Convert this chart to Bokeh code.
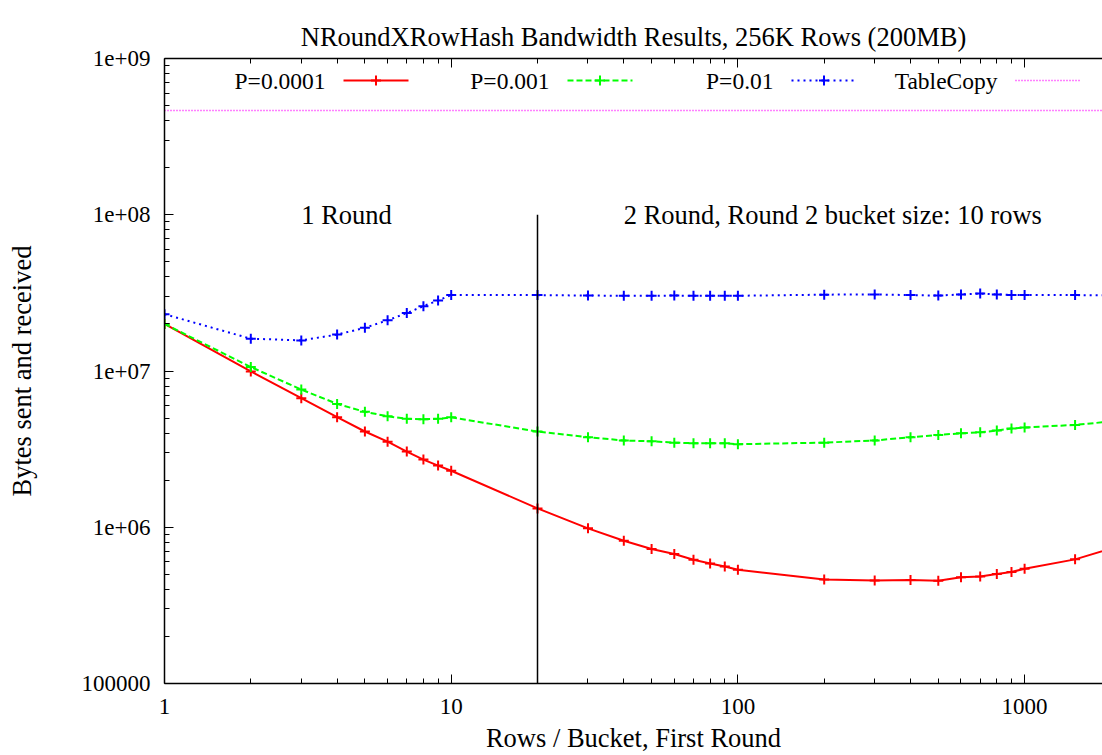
from bokeh.plotting import figure
from bokeh.models import LogAxis, FixedTicker, Range1d, CustomJSTickFormatter
from bokeh.core.properties import value
from bokeh.embed import file_html
from bokeh.resources import INLINE

# ---------------- data ----------------
x_rows = [1, 2, 3, 4, 5, 6, 7, 8, 9, 10, 20, 30, 40, 50, 60, 70, 80, 90, 100,
          200, 300, 400, 500, 600, 700, 800, 900, 1000, 1500, 2000]
p_0001 = [2.0e7, 9.93e6, 6.70e6, 5.06e6, 4.10e6, 3.53e6, 3.05e6, 2.71e6, 2.48e6, 2.30e6,
          1.32e6, 9.84e5, 8.20e5, 7.26e5, 6.75e5, 6.20e5, 5.87e5, 5.61e5, 5.35e5,
          4.63e5, 4.57e5, 4.59e5, 4.55e5, 4.78e5, 4.84e5, 5.02e5, 5.17e5, 5.43e5, 6.23e5, 7.3e5]
p_001 = [2.0e7, 1.06e7, 7.61e6, 6.16e6, 5.48e6, 5.13e6, 4.94e6, 4.91e6, 4.94e6, 5.05e6,
         4.10e6, 3.77e6, 3.59e6, 3.55e6, 3.48e6, 3.45e6, 3.45e6, 3.45e6, 3.40e6,
         3.48e6, 3.59e6, 3.77e6, 3.90e6, 3.99e6, 4.05e6, 4.16e6, 4.28e6, 4.35e6, 4.52e6, 4.75e6]
p_01 = [2.31e7, 1.61e7, 1.57e7, 1.71e7, 1.89e7, 2.11e7, 2.35e7, 2.60e7, 2.83e7, 3.06e7,
        3.06e7, 3.04e7, 3.03e7, 3.03e7, 3.04e7, 3.03e7, 3.03e7, 3.03e7, 3.03e7,
        3.08e7, 3.09e7, 3.06e7, 3.04e7, 3.09e7, 3.13e7, 3.09e7, 3.07e7, 3.07e7, 3.06e7, 3.05e7]
table_copy_x = [1, 2000]
table_copy_y = [4.64e8, 4.64e8]

series_names = ["P=0.0001", "P=0.001", "P=0.01", "TableCopy"]

divider_x = [20, 20]
divider_y = [1e8, 1e5]
region_labels = ["1 Round", "2 Round, Round 2 bucket size: 10 rows"]
region_label_x = [3, 40]
region_label_y = [1e8, 1e8]

x_ticks = [1, 10, 100, 1000]
x_tick_labels = ["1", "10", "100", "1000"]
y_ticks = [1e5, 1e6, 1e7, 1e8, 1e9]
y_tick_labels = ["100000", "1e+06", "1e+07", "1e+08", "1e+09"]

title_text = "NRoundXRowHash Bandwidth Results, 256K Rows (200MB)"
x_label = "Rows / Bucket, First Round"
y_label = "Bytes sent and received"

# ---------------- layout helpers ----------------
FONT = "Liberation Serif"
FS_TICK = "23px"
FS_KEY = "23.5px"
FS_BIG = "26.5px"
FRAME_L = 164.0      # px of the frame left edge
DEC_X = 286.7        # px per decade on x
FRAME_T = 58.0       # px of the frame top
DEC_Y = 156.25       # px per decade on y
W, H = 1102, 755


def px_to_x(px):
    return 10 ** ((px - FRAME_L) / DEC_X)


def py_to_y(py):
    return 10 ** (9 - (py - FRAME_T) / DEC_Y)


x_end = px_to_x(W)

p = figure(width=W, height=H, x_axis_type="log", y_axis_type="log",
           x_range=Range1d(1, x_end), y_range=Range1d(1e5, 1e9),
           output_backend="svg", toolbar_location=None,
           min_border_left=164, min_border_right=0, min_border_top=58,
           min_border_bottom=72)
p.outline_line_color = None
p.grid.visible = False
p.background_fill_color = "white"
p.border_fill_color = "white"

minor_x = [m * 10 ** e for e in range(0, 4) for m in range(2, 10)]
minor_y = [m * 10 ** e for e in range(5, 9) for m in range(2, 10)]

LABEL_JS = """
let best = 0, bd = Infinity;
for (let i = 0; i < tvals.length; i++) {
  const d = Math.abs(Math.log10(tick) - Math.log10(tvals[i]));
  if (d < bd) { bd = d; best = i; }
}
return bd < 1e-6 ? tlabels[best] : "";
"""


def style_axis(ax):
    ax.axis_line_width = 1.5
    ax.axis_line_color = "black"
    ax.major_tick_in = 9
    ax.major_tick_out = 0
    ax.minor_tick_in = 5
    ax.minor_tick_out = 0
    ax.major_tick_line_color = "black"
    ax.minor_tick_line_color = "black"
    ax.major_tick_line_width = 1
    ax.minor_tick_line_width = 1
    ax.major_label_text_font = FONT
    ax.major_label_text_font_size = FS_TICK
    ax.major_label_text_color = "black"
    ax.axis_label_text_font = FONT
    ax.axis_label_text_font_size = FS_BIG
    ax.axis_label_text_font_style = "normal"
    ax.axis_label_text_color = "black"


xax = p.xaxis[0]
xax.ticker = FixedTicker(ticks=x_ticks, minor_ticks=minor_x)
xax.formatter = CustomJSTickFormatter(args=dict(tvals=x_ticks, tlabels=x_tick_labels), code=LABEL_JS)
style_axis(xax)
xax.major_label_standoff = 15
xax.axis_label = x_label
xax.axis_label_standoff = 6

yax = p.yaxis[0]
yax.ticker = FixedTicker(ticks=y_ticks, minor_ticks=minor_y)
yax.formatter = CustomJSTickFormatter(args=dict(tvals=y_ticks, tlabels=y_tick_labels), code=LABEL_JS)
style_axis(yax)
yax.major_label_standoff = 14
yax.axis_label = y_label
yax.axis_label_standoff = 42

top = LogAxis(ticker=FixedTicker(ticks=x_ticks, minor_ticks=minor_x))
style_axis(top)
top.major_label_text_font_size = "1px"
top.major_label_text_alpha = 0
top.major_label_standoff = 0
p.add_layout(top, "above")

p.title.text = title_text
p.title.text_font = FONT
p.title.text_font_size = FS_BIG
p.title.text_font_style = "normal"
p.title.text_color = "black"
p.title.align = "center"
p.title.vertical_align = "top"
p.title.offset = 3
p.title.standoff = 9

# ---------------- series ----------------
colors = ["#ff0000", "#00ff00", "#0000ff", "#ff00ff"]
dashes = ["solid", "6 3", "2 4", "1 2"]
widths = [2, 2, 2, 1.5]
ys = [p_0001, p_001, p_01]

for yv, c, d, w in zip(ys, colors, dashes, widths):
    p.line(x_rows, yv, line_color=c, line_dash=d, line_width=w)
    p.scatter(x_rows, yv, marker="cross", size=10, line_color=c, line_width=2)

p.line(table_copy_x, table_copy_y, line_color=colors[3], line_dash=dashes[3], line_width=widths[3])

# divider and region labels
p.line(divider_x, divider_y, line_color="black", line_width=1.5)
p.text(x=region_label_x, y=region_label_y, text=region_labels,
       text_font=value(FONT), text_font_size=value(FS_BIG), text_color="black",
       text_align="left", text_baseline="middle")

# ---------------- manual legend (label left of sample) ----------------
LEG_Y = py_to_y(80)
for i, (name, c, d, w) in enumerate(zip(series_names, colors, dashes, widths)):
    text_end = 325 + 224 * i
    s0, s1 = text_end + 18, text_end + 83
    p.text(x=[px_to_x(text_end)], y=[LEG_Y], text=[name],
           text_font=value(FONT), text_font_size=value(FS_KEY), text_color="black",
           text_align="right", text_baseline="middle")
    p.line([px_to_x(s0), px_to_x(s1)], [LEG_Y, LEG_Y], line_color=c, line_dash=d, line_width=w)
    if i < 3:
        p.scatter([px_to_x((s0 + s1) / 2)], [LEG_Y], marker="cross", size=10,
                  line_color=c, line_width=2)

open("out.html", "w").write(file_html(p, INLINE))
